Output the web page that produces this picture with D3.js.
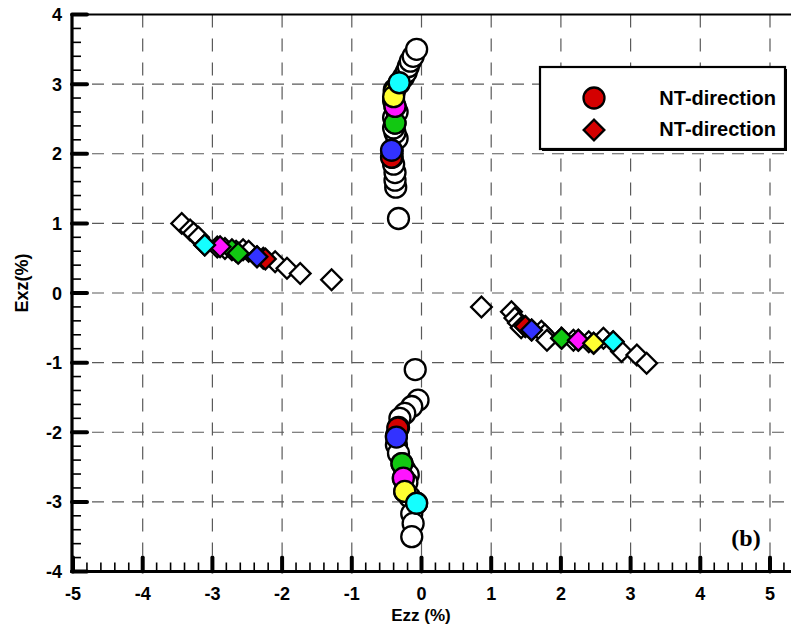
<!DOCTYPE html>
<html>
<head>
<meta charset="utf-8">
<script src="https://cdn.jsdelivr.net/npm/d3@7"></script>
<style>
  html, body { margin: 0; padding: 0; background: #fff; }
  svg { display: block; }
  text { font-family: "Liberation Sans", Arial, sans-serif; font-weight: bold; }
</style>
</head>
<body>
<svg id="chart" width="791" height="626"></svg>
<script>
// Axis ticks
const xTickValues = [-5, -4, -3, -2, -1, 0, 1, 2, 3, 4, 5];
const yTickValues = [-4, -3, -2, -1, 0, 1, 2, 3, 4];

// Loading steps highlighted with filled markers
const stepNames = ["step1", "step2", "step3", "step4", "step5", "step6"];

// Ezz / Exz strain paths (%) — hollow markers, full history
const circleOpenUpper = [
  [-0.33, 1.07], [-0.37, 1.52], [-0.38, 1.62], [-0.38, 1.73], [-0.40, 1.85],
  [-0.42, 1.95], [-0.42, 2.04], [-0.35, 2.22], [-0.38, 2.30], [-0.40, 2.37],
  [-0.38, 2.44], [-0.40, 2.52], [-0.35, 2.60], [-0.38, 2.68], [-0.40, 2.76],
  [-0.39, 2.92], [-0.32, 3.01], [-0.26, 3.10], [-0.22, 3.17], [-0.19, 3.25],
  [-0.16, 3.33], [-0.12, 3.40], [-0.07, 3.50]
];
const circleOpenLower = [
  [-0.09, -1.10], [-0.05, -1.54], [-0.14, -1.63], [-0.24, -1.73], [-0.31, -1.80],
  [-0.33, -1.93], [-0.36, -2.05], [-0.36, -2.18], [-0.33, -2.30], [-0.28, -2.45],
  [-0.24, -2.54], [-0.19, -2.61], [-0.26, -2.66], [-0.21, -2.72], [-0.24, -2.85],
  [-0.17, -2.93], [-0.07, -3.02], [-0.14, -3.17], [-0.12, -3.31], [-0.14, -3.50]
];
const diamondOpenLeft = [
  [-3.44, 1.00], [-3.32, 0.905], [-3.27, 0.86], [-3.20, 0.80], [-3.11, 0.69],
  [-2.93, 0.66], [-2.82, 0.64], [-2.66, 0.60], [-2.56, 0.62], [-2.48, 0.60],
  [-2.36, 0.52], [-2.27, 0.50], [-2.10, 0.45], [-1.93, 0.355], [-1.74, 0.28],
  [-1.29, 0.19]
];
const diamondOpenRight = [
  [0.86, -0.20], [1.29, -0.27], [1.34, -0.36], [1.39, -0.43], [1.43, -0.50],
  [1.49, -0.48], [1.58, -0.53], [1.72, -0.55], [1.77, -0.60], [1.80, -0.68],
  [2.01, -0.65], [2.18, -0.68], [2.25, -0.68], [2.40, -0.70], [2.47, -0.72],
  [2.61, -0.65], [2.75, -0.70], [2.87, -0.84], [3.09, -0.89], [3.23, -1.01]
];

// Highlighted steps: [Ezz, Exz, step index]
const circleStepsUpper = [
  [-0.43, 1.95, 0], [-0.43, 2.05, 1], [-0.38, 2.44, 2], [-0.38, 2.68, 3],
  [-0.39, 2.89, 4], [-0.40, 2.82, 4], [-0.32, 3.02, 5]
];
const circleStepsLower = [
  [-0.34, -1.94, 0], [-0.36, -2.07, 1], [-0.28, -2.45, 2], [-0.26, -2.66, 3],
  [-0.24, -2.85, 4], [-0.07, -3.02, 5]
];
const diamondStepsLeft = [
  [-2.24, 0.49, 0], [-2.36, 0.52, 1], [-2.72, 0.62, 2], [-2.63, 0.57, 2],
  [-2.89, 0.665, 3], [-3.11, 0.69, 5]
];
const diamondStepsRight = [
  [1.49, -0.48, 0], [1.58, -0.53, 1], [2.01, -0.65, 2], [2.25, -0.68, 3],
  [2.47, -0.72, 4], [2.75, -0.70, 5]
];

const legendLabels = ["NT-direction", "NT-direction"];
const panelLabel = "(b)";
const xTitle = "Ezz (%)";
const yTitle = "Exz(%)";

const stepColors = ["#d40000", "#3232ff", "#12c812", "#ff14ff", "#ffff32", "#14ffff"];

const svg = d3.select("#chart");
const left = 72, rightEdge = 791;
const x = d3.scaleLinear().domain([-5, 5]).range([73, 770]);
const y = d3.scaleLinear().domain([-4, 4]).range([571.5, 14.5]);
const xMaxVisible = x.invert(rightEdge);
const tickText = d => (d < 0 ? "-" + Math.abs(d) : String(d));

// Dashed grid
const grid = svg.append("g");
grid.selectAll("line.v").data(xTickValues.filter(v => v > -5))
  .join("line")
  .attr("x1", d => x(d)).attr("x2", d => x(d))
  .attr("y1", y(4)).attr("y2", y(-4))
  .attr("stroke", "#5a5a5a").attr("stroke-width", 1.2)
  .attr("stroke-dasharray", "13,11");
grid.selectAll("line.h").data(yTickValues.filter(v => v > -4 && v < 4))
  .join("line")
  .attr("x1", left).attr("x2", rightEdge)
  .attr("y1", d => y(d)).attr("y2", d => y(d))
  .attr("stroke", "#5a5a5a").attr("stroke-width", 1.2)
  .attr("stroke-dasharray", "12,8");

// Frame: top rule, left and bottom axes
svg.append("line").attr("x1", left).attr("x2", rightEdge)
  .attr("y1", y(4)).attr("y2", y(4))
  .attr("stroke", "#000").attr("stroke-width", 2);

const axes = svg.append("g");
// minor ticks
const xMinor = d3.range(-5, xMaxVisible, 0.2).filter(v => Math.abs(v - Math.round(v)) > 1e-6);
const yMinor = d3.range(-4, 4, 0.2).filter(v => Math.abs(v - Math.round(v)) > 1e-6);
axes.selectAll("line.xm").data(xMinor).join("line")
  .attr("x1", d => x(d)).attr("x2", d => x(d))
  .attr("y1", y(-4)).attr("y2", y(-4) - 9)
  .attr("stroke", "#000").attr("stroke-width", 1.6);
axes.selectAll("line.ym").data(yMinor).join("line")
  .attr("x1", left).attr("x2", left + 9)
  .attr("y1", d => y(d)).attr("y2", d => y(d))
  .attr("stroke", "#000").attr("stroke-width", 1.6);
// major ticks
axes.selectAll("line.xM").data(xTickValues).join("line")
  .attr("x1", d => x(d)).attr("x2", d => x(d))
  .attr("y1", y(-4)).attr("y2", y(-4) - 14)
  .attr("stroke", "#000").attr("stroke-width", 4).attr("stroke-linecap", "round");
axes.selectAll("line.yM").data(yTickValues).join("line")
  .attr("x1", left).attr("x2", left + 15)
  .attr("y1", d => y(d)).attr("y2", d => y(d))
  .attr("stroke", "#000").attr("stroke-width", 4).attr("stroke-linecap", "round");
// axis lines
axes.append("line").attr("x1", left).attr("x2", left)
  .attr("y1", y(4)).attr("y2", y(-4) + 1.5)
  .attr("stroke", "#000").attr("stroke-width", 3.2);
axes.append("line").attr("x1", left - 1.5).attr("x2", rightEdge)
  .attr("y1", y(-4)).attr("y2", y(-4))
  .attr("stroke", "#000").attr("stroke-width", 3.2);

// tick labels
axes.selectAll("text.xl").data(xTickValues).join("text")
  .attr("x", d => x(d)).attr("y", 600)
  .attr("text-anchor", "middle").attr("font-size", 18)
  .text(tickText);
axes.selectAll("text.yl").data(yTickValues).join("text")
  .attr("x", 62).attr("y", d => y(d) + 6.5)
  .attr("text-anchor", "end").attr("font-size", 18)
  .text(tickText);

// axis titles
svg.append("text").attr("x", 421).attr("y", 621)
  .attr("text-anchor", "middle").attr("font-size", 17).text(xTitle);
svg.append("text")
  .attr("transform", "translate(28,283) rotate(-90)")
  .attr("text-anchor", "middle").attr("font-size", 18).text(yTitle);

// markers
const circleR = 10.5;
const diamondPath = d3.symbol(d3.symbolSquare, 215)();
const plot = svg.append("g");

function drawCircles(data, fillFn) {
  plot.append("g").selectAll("circle").data(data).join("circle")
    .attr("cx", d => x(d[0])).attr("cy", d => y(d[1])).attr("r", circleR)
    .attr("fill", fillFn).attr("stroke", "#000").attr("stroke-width", 2.3);
}
function drawDiamonds(data, fillFn) {
  plot.append("g").selectAll("path").data(data).join("path")
    .attr("d", diamondPath)
    .attr("transform", d => `translate(${x(d[0])},${y(d[1])}) rotate(45)`)
    .attr("fill", fillFn).attr("stroke", "#000").attr("stroke-width", 2.3)
    .attr("stroke-linejoin", "miter");
}

drawCircles(circleOpenUpper, () => "#fff");
drawCircles(circleOpenLower, () => "#fff");
drawDiamonds(diamondOpenLeft, () => "#fff");
drawDiamonds(diamondOpenRight, () => "#fff");

const byStep = arr => arr.slice().sort((a, b) => a[2] - b[2]);
drawCircles(byStep(circleStepsUpper), d => stepColors[d[2]]);
drawCircles(byStep(circleStepsLower), d => stepColors[d[2]]);
drawDiamonds(byStep(diamondStepsLeft), d => stepColors[d[2]]);
drawDiamonds(byStep(diamondStepsRight), d => stepColors[d[2]]);

// panel label
svg.append("text").attr("x", 746).attr("y", 546)
  .attr("text-anchor", "middle")
  .style("font-family", "'Liberation Serif', 'Times New Roman', serif")
  .attr("font-size", 24).text(panelLabel);

// legend
const lg = svg.append("g");
lg.append("rect").attr("x", 542).attr("y", 69).attr("width", 245).attr("height", 82)
  .attr("fill", "#000");
lg.append("rect").attr("x", 540).attr("y", 67).attr("width", 245).attr("height", 82)
  .attr("fill", "#fff").attr("stroke", "#000").attr("stroke-width", 2.2);
lg.append("circle").attr("cx", 594).attr("cy", 98).attr("r", circleR)
  .attr("fill", stepColors[0]).attr("stroke", "#000").attr("stroke-width", 2.3);
lg.append("path").attr("d", diamondPath)
  .attr("transform", "translate(594,130) rotate(45)")
  .attr("fill", stepColors[0]).attr("stroke", "#000").attr("stroke-width", 2.3);
lg.selectAll("text").data(legendLabels).join("text")
  .attr("x", 776).attr("y", (d, i) => 105 + i * 31)
  .attr("text-anchor", "end").attr("font-size", 20)
  .text(d => d);
</script>
</body>
</html>
